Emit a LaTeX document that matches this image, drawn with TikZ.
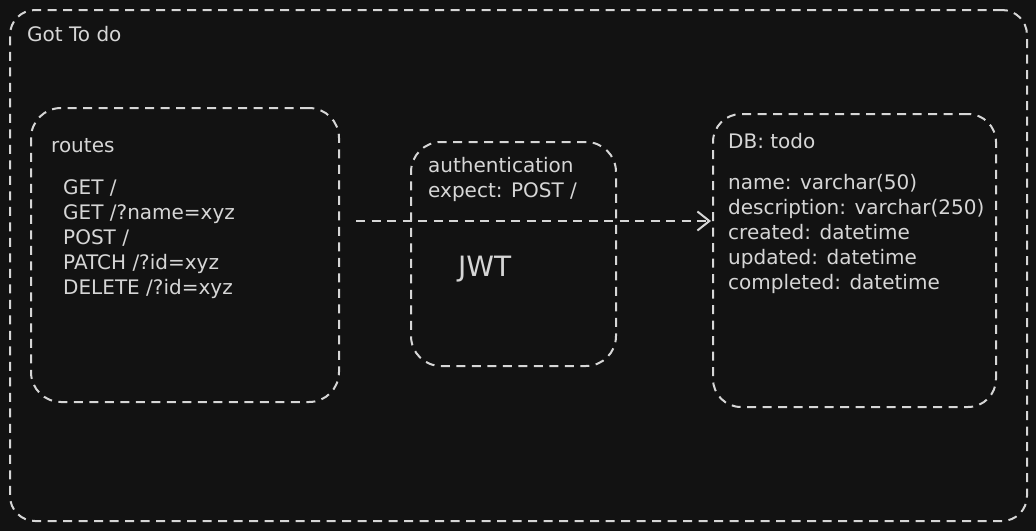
\documentclass[tikz,border=0pt]{standalone}
\usepackage{fontspec}
\setmainfont{DejaVu Sans}
\usetikzlibrary{arrows.meta, positioning}
\definecolor{canvas}{HTML}{121212}
\definecolor{chalk}{HTML}{D6D6D6}

\begin{document}
\begin{tikzpicture}[
    x=1pt, y=-1pt,
    frame/.style={rectangle, draw=chalk, line width=2pt, dash pattern=on 9pt off 6.5pt, rounded corners=30pt, inner sep=0pt},
    label/.style={text=chalk, anchor=base west, inner sep=0pt, align=left, font=\fontsize{20}{25}\selectfont},
    arrow/.style={draw=chalk, line width=2pt, dash pattern=on 9pt off 6.5pt, -{Straight Barb[length=12pt,width=19pt]}}
]

% Canvas
\fill [canvas] (0,0) rectangle (1036,531);
\useasboundingbox (0,0) rectangle (1036,531);

% Frames
\node (app) [frame, rounded corners=25pt, minimum width=1017pt, minimum height=511pt] at (518.5,265.5) {};
\node (routes) [frame, minimum width=308pt, minimum height=294pt] at (185,255) {};
\node (auth) [frame, minimum width=205pt, minimum height=224pt] at (513.5,254) {};
\node (db) [frame, rounded corners=28pt, minimum width=283pt, minimum height=293pt] at (854.5,260.5) {};

% Labels (multi-line ones sit on their last baseline)
\node (apptitle) [label] at (27,41) {Got To do};
\node (routestitle) [label] at (51,152) {routes};
\node (routelist) [label] at (63,294) {GET /\\GET /?name=xyz\\POST /\\PATCH /?id=xyz\\DELETE /?id=xyz};
\node (authtitle) [label] at (428,197) {authentication\\expect: POST /};
\node (jwt) [label, font=\fontsize{28}{30}\selectfont] at (458,276) {JWT};
\node (dbtitle) [label] at (728,148) {DB: todo};
\node (dbfields) [label] at (728,289) {name: varchar(50)\\description: varchar(250)\\created: datetime\\updated: datetime\\completed: datetime};

% Edges
\coordinate (tap) at ([yshift=34pt]routes.east);
\draw [arrow, shorten <=16pt, shorten >=1pt] (tap) -- (tap -| db.west);

\end{tikzpicture}
\end{document}
